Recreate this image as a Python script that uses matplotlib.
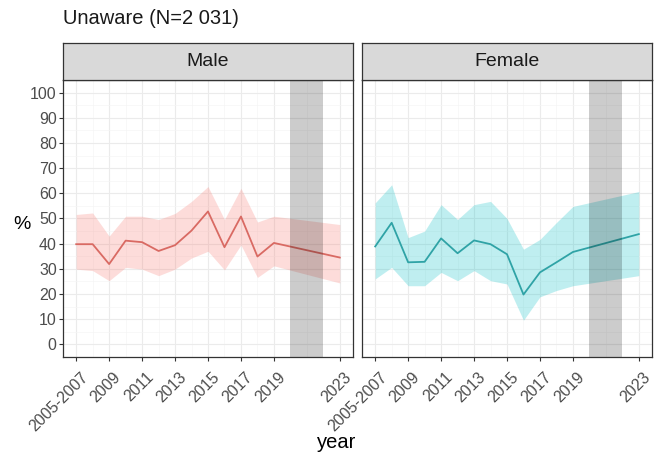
import matplotlib
matplotlib.use("Agg")
import matplotlib.pyplot as plt
from matplotlib.patches import Rectangle
from matplotlib.ticker import FixedLocator
from matplotlib.transforms import ScaledTranslation

plt.rcParams['font.family'] = ['Liberation Sans', 'DejaVu Sans']

# Survey years (2005-2007 pooled wave plotted at 2007)
years = [2007, 2008, 2009, 2010, 2011, 2012, 2013, 2014, 2015, 2016, 2017, 2018, 2019, 2023]
tick_years = [2007, 2009, 2011, 2013, 2015, 2017, 2019, 2023]
tick_labels = ["2005-2007", "2009", "2011", "2013", "2015", "2017", "2019", "2023"]

male_est = [39.8, 39.8, 31.9, 41.2, 40.6, 37.1, 39.4, 45.2, 52.8, 38.6, 50.8, 34.9, 40.3, 34.5]
male_lo = [29.9, 29.3, 25.3, 30.6, 29.9, 27.3, 29.9, 34.3, 37.0, 29.6, 39.5, 26.6, 31.2, 24.4]
male_hi = [51.6, 52.2, 43.0, 50.9, 50.9, 49.6, 52.0, 56.8, 62.7, 49.6, 62.0, 48.6, 50.9, 47.6]

female_est = [38.9, 48.3, 32.6, 32.8, 42.1, 36.2, 41.3, 39.8, 35.8, 19.8, 28.6, 32.6, 36.7, 43.8]
female_lo = [26.0, 30.6, 23.3, 23.3, 28.6, 25.3, 29.3, 25.3, 24.0, 9.6, 18.9, 21.4, 23.3, 27.3]
female_hi = [56.2, 63.4, 42.4, 45.0, 55.5, 49.6, 55.5, 56.8, 50.0, 37.8, 41.7, 48.4, 54.8, 60.7]

panels = [
    ("Male", male_est, male_lo, male_hi, "#F8766D", "#D96A63"),
    ("Female", female_est, female_lo, female_hi, "#00BFC4", "#2FA3A6"),
]

gap_start, gap_end = 2020, 2022
title = "Unaware (N=2 031)"

W, H = 654, 454
fig = plt.figure(figsize=(W / 100, H / 100), dpi=100)

def fx(px):
    return px / W

def fy(py):
    return 1 - py / H

panel_top, panel_bot = 80, 357
strip_top = 43
lefts = [63, 362]
pw = 290

for i, (name, est, lo, hi, fill_col, line_col) in enumerate(panels):
    left = lefts[i]
    ax = fig.add_axes([fx(left), fy(panel_bot), pw / W, (panel_bot - panel_top) / H])
    ax.set_xlim(2006.2, 2023.8)
    ax.set_ylim(-5, 105)

    # grid
    ax.set_yticks(range(0, 101, 10))
    ax.yaxis.set_minor_locator(FixedLocator(range(5, 100, 10)))
    ax.set_xticks(tick_years)
    ax.xaxis.set_minor_locator(FixedLocator([2008, 2010, 2012, 2014, 2016, 2018, 2021]))
    ax.grid(which='major', color='#EBEBEB', linewidth=0.8)
    ax.grid(which='minor', color='#F5F5F5', linewidth=0.5)
    ax.set_axisbelow(True)

    ax.fill_between(years, lo, hi, color=fill_col, alpha=0.25, linewidth=0, zorder=2)
    ax.plot(years, est, color=line_col, linewidth=1.3, zorder=3)
    ax.add_patch(Rectangle((gap_start, -5), gap_end - gap_start, 110,
                           facecolor='black', alpha=0.2, linewidth=0, zorder=4))

    for s in ax.spines.values():
        s.set_color('#333333')
        s.set_linewidth(0.9)
    ax.tick_params(which='major', direction='out', length=3, width=0.8,
                   color='#333333', labelcolor='#4D4D4D', labelsize=11.5, pad=1.5)
    ax.tick_params(axis='x', which='major', pad=6)
    ax.tick_params(which='minor', length=0)

    ax.set_xticklabels(tick_labels, rotation=45, ha='right', va='top',
                       rotation_mode='anchor')
    shift = ScaledTranslation(4 / 100, 0, fig.dpi_scale_trans)
    for lab in ax.get_xticklabels():
        lab.set_transform(lab.get_transform() + shift)
    if i == 0:
        ax.set_yticklabels([str(v) for v in range(0, 101, 10)])
    else:
        ax.set_yticklabels([])
        ax.tick_params(axis='y', which='major', length=0)

    # facet strip
    sax = fig.add_axes([fx(left), fy(panel_top), pw / W, (panel_top - strip_top) / H])
    sax.set_facecolor('#D9D9D9')
    sax.set_xticks([])
    sax.set_yticks([])
    for s in sax.spines.values():
        s.set_color('#333333')
        s.set_linewidth(0.9)
    sax.text(0.5, 0.5, name, ha='center', va='center', fontsize=14,
             color='#1A1A1A', transform=sax.transAxes)

fig.text(fx(63), fy(18), title, ha='left', va='center', fontsize=14.5, color='#1A1A1A')
fig.text(fx(22), fy(225), "%", ha='center', va='center', fontsize=14, color='black')
fig.text(fx(337), fy(442), "year", ha='center', va='center', fontsize=14.5, color='black')

fig.savefig("out.png", dpi=100)
